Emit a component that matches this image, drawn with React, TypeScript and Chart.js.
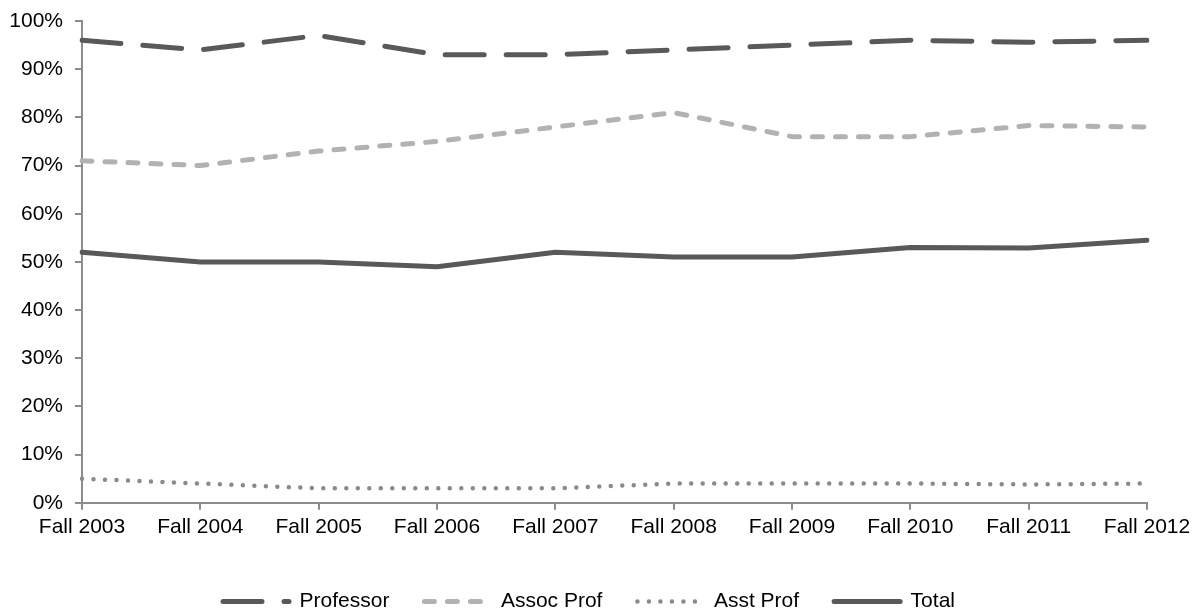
import React, { useEffect, useRef } from "react";
import { Chart, registerables } from "chart.js";

Chart.register(...registerables);

const categories = ["Fall 2003", "Fall 2004", "Fall 2005", "Fall 2006", "Fall 2007", "Fall 2008", "Fall 2009", "Fall 2010", "Fall 2011", "Fall 2012"];
const professor = [96, 94, 97, 93, 93, 94, 95, 96, 95.6, 96];
const assocProf = [71, 70, 73, 75, 78, 81, 76, 76, 78.3, 78];
const asstProf = [5, 4, 3, 3, 3, 4, 4, 4, 3.8, 4];
const total = [52, 50, 50, 49, 52, 51, 51, 53, 52.9, 54.5];
const yTicks = [0, 10, 20, 30, 40, 50, 60, 70, 80, 90, 100];

const DARK = "#595959";
const LIGHT = "#b2b2b2";
const DOT = "#8a8a8a";
const AXIS = "#8c8c8c";
const FONT = "'Liberation Sans', Arial, sans-serif";
const FS = 21;

const legendShift = {
  id: "legendShift",
  afterLayout(chart: any) {
    const lg = chart.legend;
    if (!lg) return;
    lg.left -= 9;
    lg.right -= 9;
    lg.top += 11;
    lg.bottom += 11;
  },
};

export default function App() {
  const ref = useRef<HTMLCanvasElement | null>(null);
  useEffect(() => {
    if (!ref.current) return;
    const mk = (label: string, data: number[], color: string, dash: number[], width: number) => ({
      label,
      data,
      borderColor: color,
      backgroundColor: color,
      borderWidth: width,
      borderDash: dash,
      borderCapStyle: "round",
      borderJoinStyle: "round",
      pointRadius: 0,
      pointHoverRadius: 0,
      pointStyle: "line",
      tension: 0,
      fill: false,
    });
    const chart = new Chart(ref.current, {
      type: "line",
      data: {
        labels: categories,
        datasets: [
          mk("Professor", professor, DARK, [39, 22], 5),
          mk("Assoc Prof", assocProf, LIGHT, [10, 13], 5),
          mk("Asst Prof", asstProf, DOT, [0, 11.5], 4.5),
          mk("Total", total, DARK, [], 5),
        ] as any,
      },
      plugins: [legendShift],
      options: {
        animation: false,
        responsive: false,
        maintainAspectRatio: false,
        layout: { padding: { left: 9, right: 11, top: 21, bottom: -1 } },
        plugins: {
          tooltip: { enabled: false },
          legend: {
            position: "bottom",
            labels: {
              usePointStyle: true,
              pointStyleWidth: 66,
              boxHeight: 5,
              boxWidth: 66,
              padding: 35,
              color: "#000",
              font: { family: FONT, size: FS },
              generateLabels: (ch: any) =>
                ch.data.datasets.map((ds: any, i: number) => ({
                  text: ds.label,
                  fillStyle: ds.borderColor,
                  strokeStyle: ds.borderColor,
                  lineWidth: ds.borderWidth,
                  lineDash: ds.borderDash,
                  lineDashOffset: 0,
                  lineCap: "round",
                  lineJoin: "round",
                  pointStyle: "line",
                  fontColor: "#000",
                  hidden: false,
                  datasetIndex: i,
                })),
            },
          },
        },
        scales: {
          x: {
            offset: false,
            afterFit: (axis: any) => {
              axis.paddingRight = 51;
              axis.paddingLeft = 0;
            },
            grid: { display: true, drawOnChartArea: false, drawTicks: true, tickLength: 7, color: AXIS, lineWidth: 2 },
            border: { display: true, color: AXIS, width: 2 },
            ticks: { color: "#000", font: { family: FONT, size: FS }, padding: 5, maxRotation: 0, autoSkip: false },
          },
          y: {
            min: 0,
            max: 100,
            afterBuildTicks: (axis: any) => {
              axis.ticks = yTicks.map((v) => ({ value: v }));
            },
            afterFit: (axis: any) => {
              axis.width = 73;
              axis.paddingTop = 0;
            },
            grid: { display: true, drawOnChartArea: false, drawTicks: true, tickLength: 7, color: AXIS, lineWidth: 2 },
            border: { display: true, color: AXIS, width: 2 },
            ticks: {
              color: "#000",
              font: { family: FONT, size: FS },
              padding: 12,
              callback: (v: any) => v + "%",
            },
          },
        },
      },
    } as any);
    return () => chart.destroy();
  }, []);
  return (
    <div style={{ position: "absolute", left: 0, top: 0, width: 1198, height: 610, background: "#fff" }}>
      <canvas ref={ref} width={1198} height={610} style={{ display: "block" }} />
    </div>
  );
}
